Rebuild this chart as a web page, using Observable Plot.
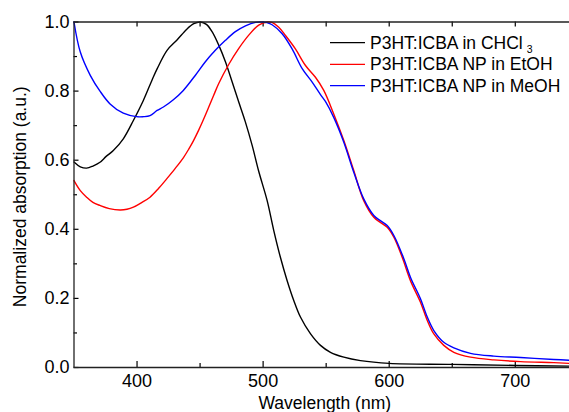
<!DOCTYPE html>
<html>
<head>
<meta charset="utf-8">
<script src="https://cdn.jsdelivr.net/npm/d3@7"></script>
<script src="https://cdn.jsdelivr.net/npm/@observablehq/plot@0.6"></script>
<style>
  html, body { margin: 0; padding: 0; background: #fff; }
  #wrap { position: relative; width: 569px; height: 412px; overflow: hidden; }
  #legend { position: absolute; left: 0; top: 0; }
</style>
</head>
<body>
<div id="wrap"></div>
<script>
// ---- data ----
const seriesNames = ["P3HT:ICBA in CHCl3", "P3HT:ICBA NP in EtOH", "P3HT:ICBA NP in MeOH"];
const seriesColors = ["#000000", "#ff0000", "#0000ff"];

const chclWavelength = [350, 355, 360, 365, 370.6, 375.5, 381.2, 389.1, 397.1, 405, 412, 416, 423.8, 431.7, 439.7, 445, 450.2, 455, 459.5, 464.8, 470.1, 475.4, 480.6, 485.9, 491.3, 496.5, 503.2, 508.4, 513.7, 519, 524.3, 529.6, 537.5, 545.5, 553.4, 564, 577.2, 600, 650, 700, 743];
const chclAbsorption = [0.595, 0.581, 0.577, 0.583, 0.594, 0.611, 0.628, 0.662, 0.715, 0.773, 0.833, 0.865, 0.918, 0.948, 0.980, 0.995, 1.0, 0.993, 0.972, 0.933, 0.885, 0.827, 0.769, 0.711, 0.643, 0.568, 0.483, 0.397, 0.319, 0.252, 0.194, 0.146, 0.098, 0.064, 0.044, 0.030, 0.020, 0.012, 0.009, 0.006, 0.004];

const etohWavelength = [350, 355, 360, 365, 370.6, 378, 386.5, 392, 397.1, 403, 410.3, 417, 423.5, 430, 436.7, 441, 444.7, 448.9, 452.6, 456.8, 460.8, 464.8, 472.7, 480.6, 488.6, 496.5, 503.2, 507, 512.4, 517.7, 525.6, 533.6, 541.5, 548.1, 556, 564, 571.9, 579.8, 587.8, 593, 598.4, 603.7, 610.3, 617, 624.8, 630.2, 635.4, 643.3, 651.3, 664.5, 683, 704.2, 730.6, 743];
const etohAbsorption = [0.541, 0.512, 0.493, 0.478, 0.469, 0.460, 0.456, 0.458, 0.464, 0.476, 0.493, 0.518, 0.546, 0.575, 0.607, 0.632, 0.656, 0.687, 0.717, 0.753, 0.788, 0.822, 0.877, 0.923, 0.962, 0.991, 1.0, 0.999, 0.985, 0.961, 0.922, 0.874, 0.840, 0.802, 0.734, 0.657, 0.570, 0.483, 0.435, 0.420, 0.406, 0.377, 0.319, 0.250, 0.189, 0.136, 0.097, 0.064, 0.044, 0.030, 0.022, 0.017, 0.014, 0.012];

const meohWavelength = [350, 355, 363, 370.6, 378.6, 389.1, 399.7, 405, 410.3, 415.9, 420.9, 428.8, 436.7, 446.3, 454.2, 462.1, 470.1, 478, 486, 494, 499, 503, 507.1, 515.1, 523, 531, 538.9, 545.5, 549.4, 556, 564, 571.9, 579.8, 587.8, 593, 598.4, 603.7, 611.6, 617, 624.8, 630.2, 635.4, 643.3, 651.3, 664.5, 683, 704.2, 730.6, 743];
const meohAbsorption = [1.0, 0.913, 0.845, 0.800, 0.763, 0.736, 0.726, 0.726, 0.729, 0.744, 0.754, 0.775, 0.802, 0.846, 0.885, 0.918, 0.947, 0.972, 0.989, 0.999, 1.0, 0.998, 0.992, 0.966, 0.922, 0.865, 0.826, 0.790, 0.770, 0.724, 0.652, 0.565, 0.488, 0.440, 0.425, 0.411, 0.382, 0.315, 0.260, 0.199, 0.146, 0.107, 0.073, 0.057, 0.041, 0.033, 0.029, 0.023, 0.021];

const xMajorTicks = [400, 500, 600, 700];
const xMinorTicks = [450, 550, 650];
const xTopTicks = [400, 450, 500, 550, 600, 650, 700];
const yMajorTicks = [0, 0.2, 0.4, 0.6, 0.8, 1.0];
const yMinorTicks = [0.1, 0.3, 0.5, 0.7, 0.9];
const xDomain = [350, 743];
const yDomain = [0, 1];
const xTitle = "Wavelength (nm)";
const yTitle = "Normalized absorption (a.u.)";

// ---- build tidy rows ----
const rows = [];
[[chclWavelength, chclAbsorption], [etohWavelength, etohAbsorption], [meohWavelength, meohAbsorption]]
  .forEach(([wl, ab], s) => wl.forEach((w, i) => rows.push({wavelength: w, absorption: ab[i], series: seriesNames[s]})));

// ---- layout ----
const W = 569, H = 412;
const mL = 73.5, mR = 0, mT = 21.5, mB = 45;
const plotW = W - mL - mR, plotH = H - mT - mB;
const font = "'Liberation Sans', Arial, Helvetica, sans-serif";

const chart = Plot.plot({
  width: W, height: H,
  marginLeft: mL, marginRight: mR, marginTop: mT, marginBottom: mB,
  style: {fontFamily: font, fontSize: "18px", color: "#000", background: "#fff", overflow: "visible"},
  x: {domain: xDomain, label: null},
  y: {domain: yDomain, label: null},
  color: {domain: seriesNames, range: seriesColors},
  marks: [
    Plot.axisX(xMajorTicks, {tickSize: 0, tickPadding: 6.5, fontSize: 18, tickFormat: d3.format("d"), label: null}),
    Plot.axisY(yMajorTicks, {tickSize: 0, tickPadding: 4.5, fontSize: 18, tickFormat: d3.format(".1f"), label: null}),
    // inward tick marks
    Plot.tickX(xMajorTicks, {insetTop: plotH - 6, stroke: "#000", strokeWidth: 1.2}),
    Plot.tickX(xMinorTicks, {insetTop: plotH - 4, stroke: "#000", strokeWidth: 1.2}),
    Plot.tickX(xTopTicks, {insetBottom: plotH - 5, stroke: "#000", strokeWidth: 1.2}),
    Plot.tickY(yMajorTicks, {insetRight: plotW - 5, stroke: "#000", strokeWidth: 1.2}),
    Plot.tickY(yMinorTicks, {insetRight: plotW - 3.5, stroke: "#000", strokeWidth: 1.2}),
    // data
    Plot.line(rows, {x: "wavelength", y: "absorption", z: "series", stroke: "series", strokeWidth: 1.4, curve: "catmull-rom"}),
    // frame (left, top, bottom)
    Plot.ruleY([yDomain[0], yDomain[1]], {stroke: "#222", strokeWidth: 1.3}),
    Plot.ruleX([xDomain[0]], {stroke: "#222", strokeWidth: 1.3}),
    // axis titles
    Plot.text([xTitle], {frameAnchor: "bottom", dy: 41, dx: 3, fontSize: 17.5, fill: "#000"}),
    Plot.text([yTitle], {frameAnchor: "left", textAnchor: "middle", dx: -53.5, dy: 2, rotate: -90, fontSize: 17.5, fill: "#000"})
  ]
});

const wrap = document.getElementById("wrap");
wrap.appendChild(chart);

// ---- legend ----
const legend = d3.select(wrap).append("svg")
  .attr("id", "legend").attr("width", W).attr("height", H)
  .style("font-family", font).style("font-size", "17.5px");
const rowY = [42.7, 64.3, 85.7];
seriesNames.forEach((name, i) => {
  const g = legend.append("g");
  g.append("line").attr("x1", 330).attr("x2", 365).attr("y1", rowY[i]).attr("y2", rowY[i])
    .attr("stroke", seriesColors[i]).attr("stroke-width", 1.3);
  const t = g.append("text").attr("x", 370).attr("y", rowY[i]).attr("dy", "0.35em").attr("fill", "#000");
  if (name.endsWith("CHCl3")) {
    t.append("tspan").text(name.slice(0, -1));
    t.append("tspan").attr("dx", 4).attr("dy", 4).attr("font-size", 10.5).text("3");
  } else {
    t.text(name);
  }
});
</script>
</body>
</html>
